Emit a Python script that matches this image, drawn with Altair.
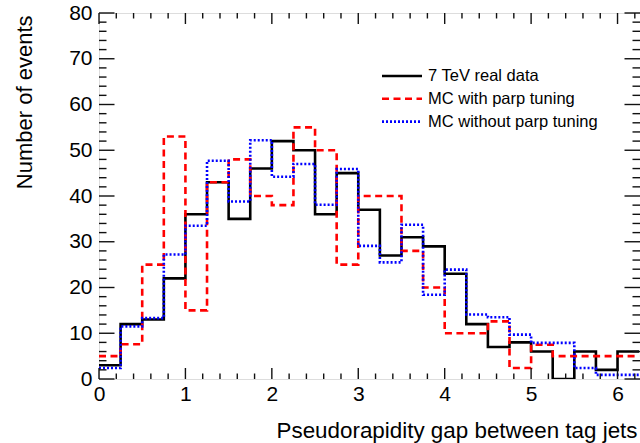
import altair as alt
import pandas as pd

# ---------------- data ----------------
bin_edges = [0.0, 0.25, 0.5, 0.75, 1.0, 1.25, 1.5, 1.75, 2.0, 2.25, 2.5, 2.75, 3.0,
             3.25, 3.5, 3.75, 4.0, 4.25, 4.5, 4.75, 5.0, 5.25, 5.5, 5.75, 6.0, 6.25]

real_data = [3, 12, 13, 22, 36, 43, 35, 46, 52, 50, 36, 45, 37, 27, 31, 29, 23,
             12, 7, 8, 6, 0, 6, 2, 6]
mc_tuned = [5, 7.6, 25, 53, 15, 43, 48, 40, 38, 55, 50, 25, 40, 40, 28, 20, 10,
            10, 12.6, 2.4, 7.5, 5, 5, 5, 5]
mc_untuned = [2.4, 11.5, 13.3, 27.2, 33.5, 47.7, 38.8, 52.2, 44.2, 47.0, 38.1, 45.9,
              29.1, 25.5, 33.7, 18.4, 23.9, 14.1, 13.5, 9.7, 7.9, 7.9, 2.4, 0.9, 0.9]

series_names = ["7 TeV real data", "MC with parp tuning", "MC without parp tuning"]
series_colors = ["#000000", "#ff0000", "#0000ff"]
series_dash = [[1, 0], [7, 4.5], [2, 2]]

x_major = [0, 1, 2, 3, 4, 5, 6]
x_minor = [0.2, 0.4, 0.6, 0.8, 1.2, 1.4, 1.6, 1.8, 2.2, 2.4, 2.6, 2.8, 3.2, 3.4,
           3.6, 3.8, 4.2, 4.4, 4.6, 4.8, 5.2, 5.4, 5.6, 5.8, 6.2]
y_major = [0, 10, 20, 30, 40, 50, 60, 70, 80]
y_minor = [2, 4, 6, 8, 12, 14, 16, 18, 22, 24, 26, 28, 32, 34, 36, 38, 42, 44, 46,
           48, 52, 54, 56, 58, 62, 64, 66, 68, 72, 74, 76, 78]

x_title = "Pseudorapidity gap between tag jets"
y_title = "Number of events"

# ---------------- layout ----------------
W, H = 541, 366
FONT = "Liberation Sans"

xscale = alt.Scale(domain=[0, 6.26], nice=False, zero=False)
yscale = alt.Scale(domain=[0, 80], nice=False, zero=False)


def step_df(vals):
    return pd.DataFrame({"x": bin_edges, "y": list(vals) + [vals[-1]]})


x_axis = alt.Axis(values=x_major, title=x_title, grid=False, domain=False, ticks=False,
                  tickSize=0, labelFontSize=21, labelPadding=4, labelFont=FONT,
                  labelColor="#000", titleFont=FONT, titleFontSize=22.4,
                  titleFontWeight="normal", titleColor="#000", titleAnchor="end",
                  titleAlign="right", titleBaseline="alphabetic", titleX=538, titleY=58,
                  format="d", labelFlush=False, labelOverlap=False)
y_axis = alt.Axis(values=y_major, title=y_title, grid=False, domain=False, ticks=False,
                  tickSize=0, labelFontSize=21, labelPadding=7, labelFont=FONT,
                  labelColor="#000", titleFont=FONT, titleFontSize=22,
                  titleFontWeight="normal", titleColor="#000", titleAngle=270,
                  titleAlign="right", titleBaseline="alphabetic", titleX=-68, titleY=2,
                  format="d", labelFlush=False, labelOverlap=False)

layers = []
all_vals = [real_data, mc_tuned, mc_untuned]
for i, (vals, col, dash) in enumerate(zip(all_vals, series_colors, series_dash)):
    layers.append(
        alt.Chart(step_df(vals)).mark_line(
            interpolate="step-after", color=col, strokeDash=dash, strokeWidth=2.6,
            clip=True
        ).encode(
            x=alt.X("x:Q", scale=xscale, axis=x_axis, title=x_title),
            y=alt.Y("y:Q", scale=yscale, axis=y_axis, title=y_title),
        )
    )

tick_color = "#111"
tick_w = 1.4


def xticks(vals, length):
    df = pd.DataFrame({"t": vals})
    base = alt.Chart(df)
    xenc = alt.X("t:Q", scale=xscale, axis=x_axis, title=x_title)
    bottom = base.mark_rule(color=tick_color, strokeWidth=tick_w).encode(
        x=xenc, y=alt.value(H), y2=alt.value(H - length))
    top = base.mark_rule(color=tick_color, strokeWidth=tick_w).encode(
        x=xenc, y=alt.value(0), y2=alt.value(length))
    return [bottom, top]


def yticks(vals, length):
    df = pd.DataFrame({"t": vals})
    base = alt.Chart(df)
    yenc = alt.Y("t:Q", scale=yscale, axis=y_axis, title=y_title)
    left = base.mark_rule(color=tick_color, strokeWidth=tick_w).encode(
        y=yenc, x=alt.value(0), x2=alt.value(length))
    right = base.mark_rule(color=tick_color, strokeWidth=tick_w).encode(
        y=yenc, x=alt.value(W), x2=alt.value(W - length))
    return [left, right]


ticks = xticks(x_major, 11) + xticks(x_minor, 5.5) + yticks(y_major, 15.5) + yticks(y_minor, 7.5)

# legend (manual)
legend_layers = []
for i, (name, col, dash) in enumerate(zip(series_names, series_colors, series_dash)):
    yy = 63 + 22.8 * i
    d = pd.DataFrame({"name": [name]})
    legend_layers.append(
        alt.Chart(d).mark_rule(color=col, strokeDash=dash, strokeWidth=2.6).encode(
            x=alt.value(283), x2=alt.value(323), y=alt.value(yy))
    )
    legend_layers.append(
        alt.Chart(d).mark_text(align="left", baseline="middle", font=FONT, fontSize=16.5,
                               color="#000").encode(
            x=alt.value(329), y=alt.value(yy), text="name:N")
    )

chart = alt.layer(*layers, *ticks, *legend_layers).properties(
    width=W, height=H,
    autosize=alt.AutoSizeParams(type="none"),
    padding={"left": 99, "top": 13, "right": 0, "bottom": 64},
).configure_view(stroke="#000", strokeWidth=2.5).configure(background="white")

chart.save("out.html", embed_options={"renderer": "svg", "actions": False})
